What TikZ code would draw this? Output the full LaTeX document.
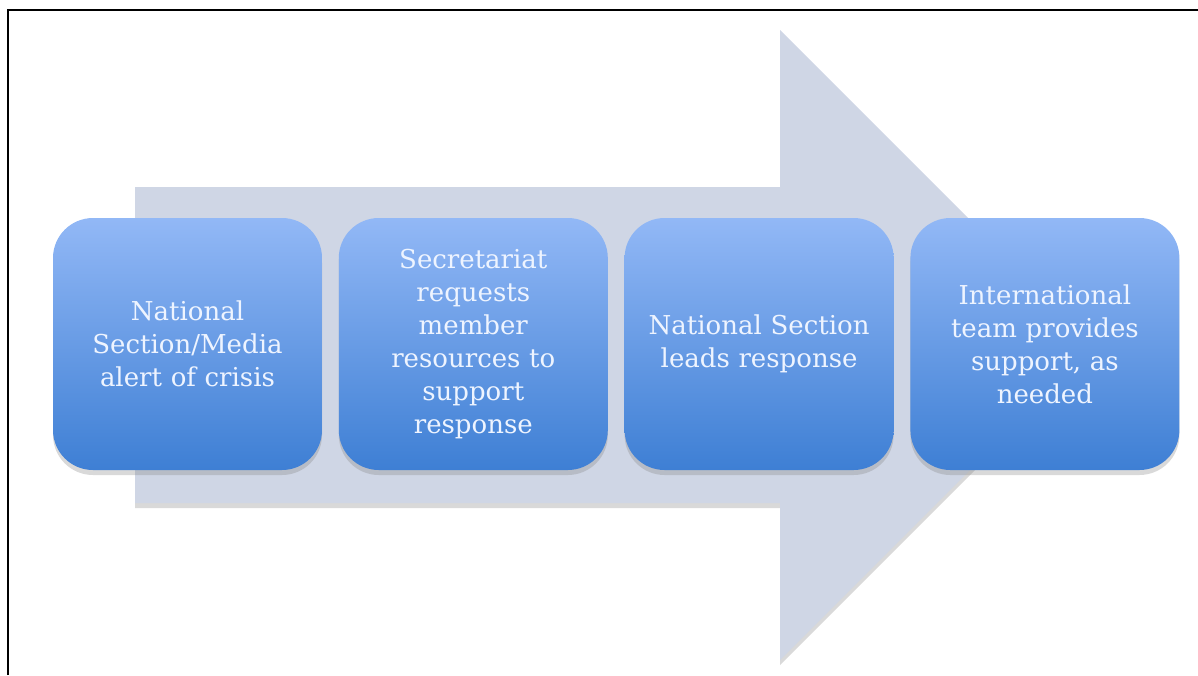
\documentclass[tikz,border=0pt]{standalone}
\usepackage{fontspec}
\setmainfont{DejaVu Serif}
\usepackage{tikz}
\usetikzlibrary{positioning, shadows}
\definecolor{arrowgray}{RGB}{207,214,229}
\definecolor{boxtop}{RGB}{146,184,246}
\definecolor{boxbottom}{RGB}{62,127,212}
\definecolor{boxtext}{RGB}{238,244,255}
\tikzset{
  stagebox/.style={rounded corners=20pt, minimum width=134.5pt, minimum height=126pt,
    top color=boxtop, bottom color=boxbottom, text=boxtext, align=center,
    text width=128pt, inner sep=0pt,
    font=\fontsize{13}{16.5}\selectfont,
    drop shadow={opacity=0.3, shadow xshift=0pt, shadow yshift=-2.5pt}},
}

\begin{document}
\begin{tikzpicture}[x=0.5pt, y=-0.5pt]
            \useasboundingbox (0,0) rectangle (1198,675);
            \draw[line width=1pt] (8,675) -- (8,10) -- (1198,10);
            \fill[arrowgray, drop shadow={opacity=0.3, shadow xshift=0pt, shadow yshift=-2.5pt}]
                (135,187) -- (780,187) -- (780,30) -- (1095,345) -- (780,660) -- (780,503) -- (135,503) -- cycle;
            \node[stagebox] (alert) at (187.5,344) {National\\Section/Media\\alert of crisis};
            \node[stagebox, right=8pt of alert] (request) {Secretariat\\requests\\member\\resources to\\support\\response};
            \node[stagebox, right=8pt of request] (lead) {National Section\\leads response};
            \node[stagebox, right=8pt of lead] (support) {International\\team provides\\support, as\\needed};
        \end{tikzpicture}
\end{document}
